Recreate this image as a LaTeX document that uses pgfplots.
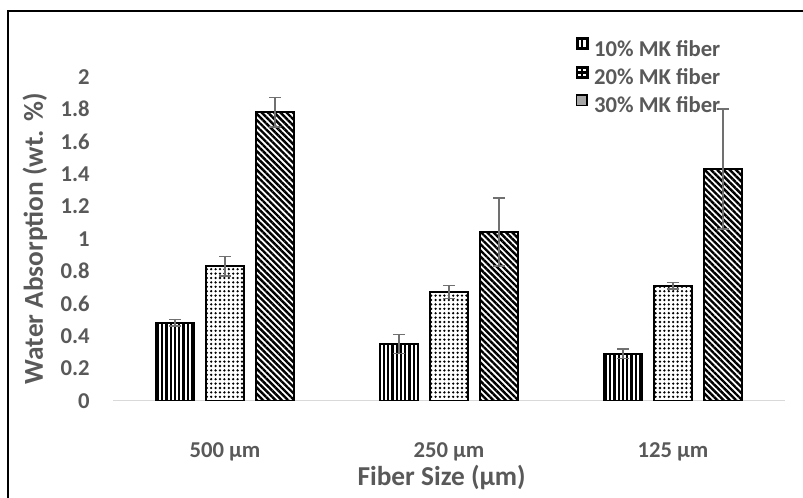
\documentclass[border=0pt]{standalone}
\usepackage{pgfplots}
\pgfplotsset{compat=1.18}
\usepackage{fontspec}
\setmainfont{Carlito}
\usetikzlibrary{patterns,patterns.meta}
\definecolor{txt}{HTML}{595959}
\definecolor{axisgray}{HTML}{D9D9D9}
\definecolor{errgray}{HTML}{707070}
\definecolor{legfill}{HTML}{A6A6A6}

\begin{document}
\begin{tikzpicture}
\path[use as bounding box] (0,0) rectangle (602.25pt,-373.5pt);
% frame (only top and left edges are in the picture)
\draw[black, line width=1.5pt] (6pt,-373.5pt) -- (6pt,-8.25pt) -- (602.25pt,-8.25pt);
\begin{axis}[
    at={(84.75pt,-300.5pt)}, anchor=south west,
    scale only axis, width=504pt, height=243pt,
    ybar, bar width=29pt,
    xmin=-0.5, xmax=2.5, ymin=0, ymax=2,
    xtick={0,1,2},
    xticklabels={500 µm, 250 µm, 125 µm},
    ytick={0,0.2,0.4,0.6,0.8,1,1.2,1.4,1.6,1.8,2},
    /pgf/number format/assume math mode=true,
    axis lines*=left,
    y axis line style={draw=none},
    x axis line style={draw=axisgray, line width=1.1pt},
    tick style={draw=none},
    tick label style={font=\fontsize{17}{20}\selectfont\bfseries, text=txt},
    yticklabel style={anchor=east, inner sep=0pt, xshift=-17.25pt},
    xticklabel style={anchor=base, inner sep=0pt, yshift=-38pt},
    label style={font=\fontsize{20.5}{24}\selectfont\bfseries, text=txt},
    xlabel={Fiber Size (µm)},
    ylabel={Water Absorption (wt. \%)},
    xlabel style={at={(axis description cs:0.489,-0.2386)}, anchor=center},
    ylabel style={at={(axis description cs:-0.1161,0.5)}, anchor=center},
    legend cell align=left,
    legend style={at={(axis description cs:0.688,1.1225)}, anchor=north west,
        draw=none, fill=none, inner sep=0pt, row sep=3.6pt,
        font=\fontsize{17}{20}\selectfont\bfseries, text=txt,
        nodes={inner sep=0pt, text height=12pt, text depth=3.5pt},
        /tikz/every odd column/.append style={column sep=4.5pt}},
    error bars/error bar style={line width=1.1pt, draw=errgray},
    error bars/error mark options={rotate=90, mark size=4.5pt, line width=1.1pt, draw=errgray},
]
% 10% MK fiber
\addplot[forget plot, bar shift=-37.5pt, draw=black, line width=1.5pt,
    pattern={Lines[angle=90,distance=3.2pt,line width=1.7pt]}, pattern color=black,
    error bars/.cd, y dir=both, y explicit]
coordinates {
    (0,0.48) +- (0,0.02)
    (1,0.35) +- (0,0.06)
    (2,0.29) +- (0,0.03)
};
% 20% MK fiber
\addplot[forget plot, bar shift=0pt, draw=black, line width=1.5pt,
    pattern={Dots[distance=3.3pt,radius=0.95pt]}, pattern color=black,
    error bars/.cd, y dir=both, y explicit]
coordinates {
    (0,0.83) +- (0,0.06)
    (1,0.67) +- (0,0.04)
    (2,0.71) +- (0,0.02)
};
% 30% MK fiber
\addplot[forget plot, bar shift=37.5pt, draw=black, line width=1.5pt,
    pattern={Lines[angle=-45,distance=3.3pt,line width=1.8pt]}, pattern color=black,
    error bars/.cd, y dir=both, y explicit]
coordinates {
    (0,1.78) +- (0,0.09)
    (1,1.04) +- (0,0.21)
    (2,1.43) +- (0,0.37)
};

\addlegendimage{legend image code/.code={
    \path[fill=black] (0pt,0.8pt) rectangle (9pt,9.8pt);
    \path[fill=white] (1.5pt,2.3pt) rectangle (3.9pt,8.3pt);
    \path[fill=white] (5.1pt,2.3pt) rectangle (7.5pt,8.3pt);
}}
\addlegendentry{10\% MK fiber}
\addlegendimage{legend image code/.code={
    \path[fill=black] (0pt,0.8pt) rectangle (9pt,9.8pt);
    \path[fill=white] (1.4pt,2.2pt) rectangle (3.9pt,4.7pt);
    \path[fill=white] (5.1pt,2.2pt) rectangle (7.6pt,4.7pt);
    \path[fill=white] (1.4pt,5.9pt) rectangle (3.9pt,8.4pt);
    \path[fill=white] (5.1pt,5.9pt) rectangle (7.6pt,8.4pt);
}}
\addlegendentry{20\% MK fiber}
\addlegendimage{legend image code/.code={
    \path[draw=black, line width=1.1pt, fill=legfill] (0.55pt,1.35pt) rectangle (8.45pt,9.25pt);
}}
\addlegendentry{30\% MK fiber}
\end{axis}
\end{tikzpicture}
\end{document}
